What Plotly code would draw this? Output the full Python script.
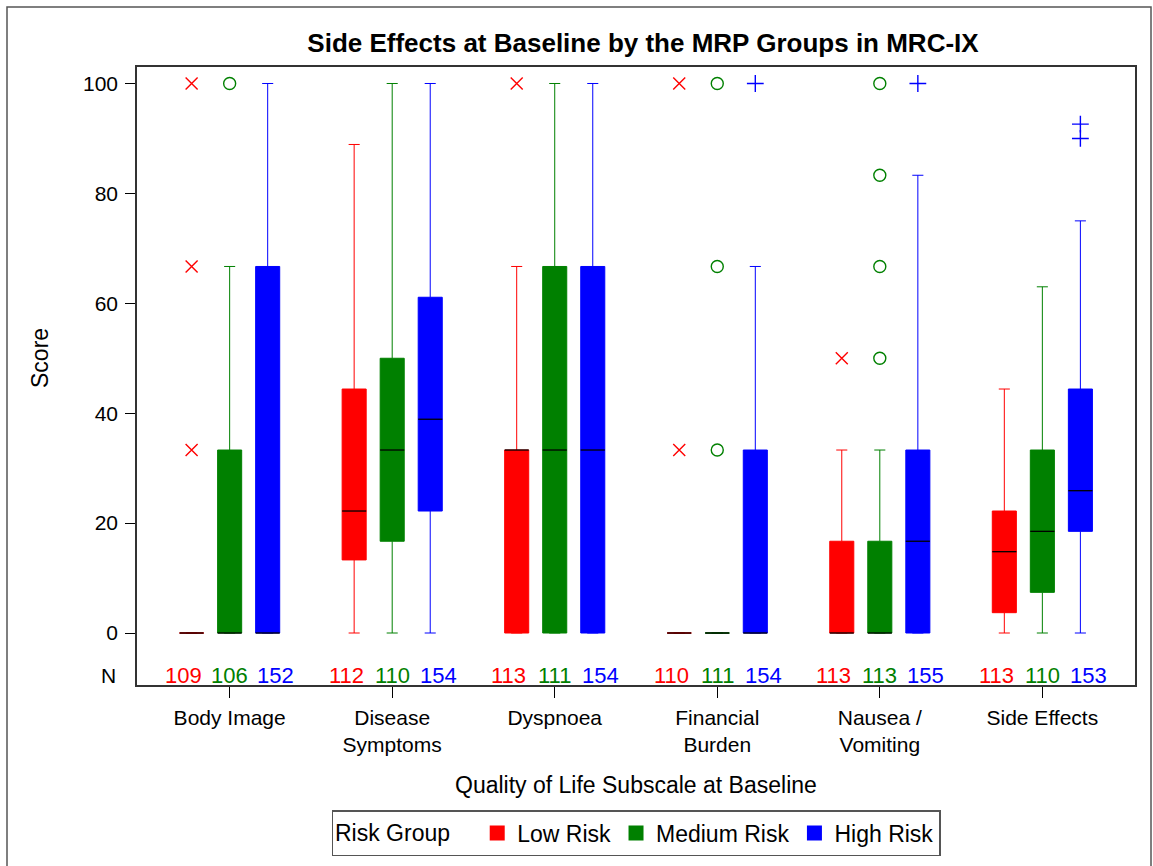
import plotly.graph_objects as go

categories = ["Body Image", "Disease<br>Symptoms", "Dyspnoea", "Financial<br>Burden", "Nausea /<br>Vomiting", "Side Effects"]
groups = ["Low Risk", "Medium Risk", "High Risk"]
colors = ["#FF0000", "#008000", "#0000FF"]
symbols = ["x-thin-open", "circle-open", "cross-thin-open"]

# box statistics per group (one value per category)
q1 = {
    "Low Risk":    [0, 13.3, 0, 0, 0, 3.7],
    "Medium Risk": [0, 16.7, 0, 0, 0, 7.4],
    "High Risk":   [0, 22.2, 0, 0, 0, 18.5],
}
median = {
    "Low Risk":    [0, 22.2, 33.3, 0, 0, 14.8],
    "Medium Risk": [0, 33.3, 33.3, 0, 0, 18.5],
    "High Risk":   [0, 38.9, 33.3, 0, 16.7, 25.9],
}
q3 = {
    "Low Risk":    [0, 44.4, 33.3, 0, 16.7, 22.2],
    "Medium Risk": [33.3, 50.0, 66.7, 0, 16.7, 33.3],
    "High Risk":   [66.7, 61.1, 66.7, 33.3, 33.3, 44.4],
}
lower = {
    "Low Risk":    [0, 0, 0, 0, 0, 0],
    "Medium Risk": [0, 0, 0, 0, 0, 0],
    "High Risk":   [0, 0, 0, 0, 0, 0],
}
upper = {
    "Low Risk":    [0, 88.9, 66.7, 0, 33.3, 44.4],
    "Medium Risk": [66.7, 100, 100, 0, 33.3, 63.0],
    "High Risk":   [100, 100, 100, 66.7, 83.3, 75.0],
}
# outliers: (category index, value)
outlier_cat = {
    "Low Risk":    [0, 0, 0, 2, 3, 3, 4],
    "Medium Risk": [0, 3, 3, 3, 4, 4, 4, 4],
    "High Risk":   [3, 4, 5, 5],
}
outlier_val = {
    "Low Risk":    [33.3, 66.7, 100, 100, 33.3, 100, 50],
    "Medium Risk": [100, 33.3, 66.7, 100, 50, 66.7, 83.3, 100],
    "High Risk":   [100, 100, 90.0, 92.6],
}
n_counts = {
    "Low Risk":    [109, 112, 113, 110, 113, 113],
    "Medium Risk": [106, 110, 111, 111, 113, 110],
    "High Risk":   [152, 154, 154, 154, 155, 153],
}
yticks = [0, 20, 40, 60, 80, 100]

offsets = [-0.234, 0.0, 0.234]
n_offsets = [-0.283, 0.0, 0.283]
box_w = 0.148
N_Y = -7.8
FONT = "Liberation Sans, Arial, sans-serif"

fig = go.Figure()
cat_pos = [i + 1 for i in range(len(categories))]

for g, col, off, noff, sym in zip(groups, colors, offsets, n_offsets, symbols):
    xs = [c + off for c in cat_pos]
    fig.add_trace(go.Box(
        x=xs, q1=q1[g], median=median[g], q3=q3[g],
        lowerfence=lower[g], upperfence=upper[g],
        width=box_w, fillcolor=col, line=dict(color=col, width=1),
        whiskerwidth=0.46, boxpoints=False, showlegend=False, hoverinfo="skip",
    ))
    # black median lines
    mx, my = [], []
    for x, m in zip(xs, median[g]):
        mx += [x - box_w / 2, x + box_w / 2, None]
        my += [m, m, None]
    fig.add_trace(go.Scatter(x=mx, y=my, mode="lines", line=dict(color="black", width=1.3),
                             showlegend=False, hoverinfo="skip"))
    # outliers
    fig.add_trace(go.Scatter(
        x=[cat_pos[i] + off for i in outlier_cat[g]], y=outlier_val[g], mode="markers",
        marker=dict(symbol=sym, size=12, color=col, line=dict(color=col, width=1.4)),
        showlegend=False, hoverinfo="skip"))
    # legend entry
    fig.add_trace(go.Scatter(x=[None], y=[None], mode="markers", name=g,
                             marker=dict(symbol="square", size=15, color=col)))
    # N counts
    for c, n in zip(cat_pos, n_counts[g]):
        fig.add_annotation(x=c + noff, y=N_Y, xref="x", yref="y", text=str(n), showarrow=False,
                           font=dict(size=22, color=col, family=FONT))

fig.add_annotation(x=0, xref="paper", xanchor="right", xshift=-19, y=N_Y, yref="y", text="N",
                   showarrow=False, font=dict(size=21, color="black", family=FONT))

# axis titles
fig.add_annotation(x=(636 - 137) / 998, xref="paper", xanchor="center",
                   y=(685 - 785) / 618, yref="paper", yanchor="middle",
                   text="Quality of Life Subscale at Baseline", showarrow=False,
                   font=dict(size=23, color="black", family=FONT))
fig.add_annotation(x=(40 - 137) / 998, xref="paper", xanchor="center",
                   y=(685 - 358) / 618, yref="paper", yanchor="middle",
                   text="Score", textangle=-90, showarrow=False,
                   font=dict(size=23, color="black", family=FONT))

# outer frame
fig.add_shape(type="rect", xref="paper", yref="paper",
              x0=(7 - 137) / 998, x1=(1151 - 137) / 998,
              y0=(685 - 880) / 618, y1=(685 - 7) / 618,
              line=dict(color="#555555", width=1.5), layer="below")

fig.update_layout(
    template="none",
    width=1153, height=866,
    margin=dict(l=137, r=18, t=67, b=181, pad=0),
    paper_bgcolor="white", plot_bgcolor="white",
    font=dict(family=FONT, size=20, color="black"),
    boxmode="overlay",
    title=dict(text="<b>Side Effects at Baseline by the MRP Groups in MRC-IX</b>",
               x=(643 - 137) / 998, xref="paper", xanchor="center",
               y=1 - 43 / 866, yref="container", yanchor="middle",
               font=dict(size=26, family=FONT, color="black")),
    xaxis=dict(range=[0.43, 6.57], tickvals=cat_pos, ticktext=categories,
               ticks="outside", ticklen=11, tickcolor="black", tickwidth=1,
               showline=True, linecolor="#333333", linewidth=1.5, mirror=True,
               showgrid=False, zeroline=False, ticklabelstandoff=2, automargin=False,
               tickfont=dict(size=21, family=FONT)),
    yaxis=dict(range=[-9.46, 103.0], tickvals=yticks, ticks="outside", ticklen=10,
               tickcolor="black", tickwidth=1, automargin=False, ticklabelstandoff=3,
               showline=True, linecolor="#333333", linewidth=1.5, mirror=True,
               showgrid=False, zeroline=False, tickfont=dict(size=21, family=FONT)),
    legend=dict(orientation="h", x=(636 - 137) / 998, xanchor="center",
                y=1 - 833 / 866, yref="container", yanchor="middle",
                title=dict(text="Risk Group   ", font=dict(size=23, family=FONT)),
                font=dict(size=23, family=FONT), bordercolor="#555555", borderwidth=1.5,
                itemwidth=30, bgcolor="white"),
)

fig.write_html("out.html")
